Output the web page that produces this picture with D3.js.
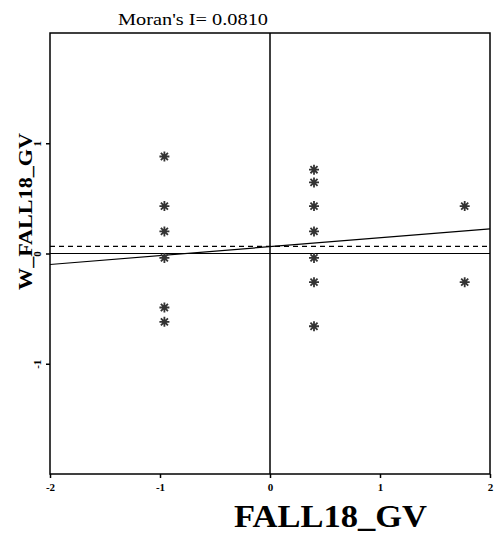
<!DOCTYPE html>
<html>
<head>
<meta charset="utf-8">
<script src="https://d3js.org/d3.v7.min.js"></script>
<style>
  html, body { margin: 0; background: #fff; }
</style>
</head>
<body>
<svg id="chart" width="494" height="536"></svg>
<script>
// data
var xVals = [-0.96, -0.96, -0.96, -0.96, -0.96, -0.96,
             0.4, 0.4, 0.4, 0.4, 0.4, 0.4, 0.4,
             1.77, 1.77];
var yVals = [0.88, 0.43, 0.2, -0.04, -0.49, -0.62,
             0.76, 0.645, 0.43, 0.2, -0.04, -0.26, -0.66,
             0.43, -0.26];
var tickVals = [-2, -1, 0, 1, 2];
var yTickVals = [-1, 0, 1];
var moranI = 0.0810;
var intercept = 0.062;
var meanW = 0.064;

var serif = "'Liberation Serif', 'DejaVu Serif', serif";
var svg = d3.select("#chart");
var pLeft = 50, pRight = 490, pTop = 33, pBottom = 474;

var x = d3.scaleLinear().domain([-2, 2]).range([pLeft, pRight]);
var y = d3.scaleLinear().domain([-2, 2]).range([pBottom, pTop]);
var fmt = function(d) { return String(d); };

// frame
svg.append("rect").attr("x", pLeft).attr("y", pTop)
  .attr("width", pRight - pLeft).attr("height", pBottom - pTop)
  .attr("fill", "none").attr("stroke", "#000").attr("stroke-width", 1.5);

// zero lines
svg.append("line").attr("x1", x(0)).attr("x2", x(0)).attr("y1", pTop).attr("y2", pBottom)
  .attr("stroke", "#000").attr("stroke-width", 1.5);
svg.append("line").attr("x1", pLeft).attr("x2", pRight).attr("y1", y(0)).attr("y2", y(0))
  .attr("stroke", "#000").attr("stroke-width", 1.2);

// mean line (dashed)
svg.append("line").attr("x1", pLeft).attr("x2", pRight).attr("y1", y(meanW)).attr("y2", y(meanW))
  .attr("stroke", "#000").attr("stroke-width", 1.2).attr("stroke-dasharray", "5,4");

// regression line
svg.append("line")
  .attr("x1", x(-2)).attr("y1", y(intercept - 2 * moranI))
  .attr("x2", x(2)).attr("y2", y(intercept + 2 * moranI))
  .attr("stroke", "#000").attr("stroke-width", 1.2);

// x axis
var xAxis = svg.append("g").attr("transform", "translate(0," + pBottom + ")")
  .call(d3.axisBottom(x).tickValues(tickVals).tickSize(4).tickFormat(fmt));
xAxis.select(".domain").remove();
xAxis.selectAll("line").attr("stroke-width", 1.5);
xAxis.selectAll("text").attr("font-size", 11).attr("font-weight", "bold")
  .attr("font-family", serif).attr("dy", "0.9em");

// y axis
var yAxis = svg.append("g").attr("transform", "translate(" + pLeft + ",0)")
  .call(d3.axisLeft(y).tickValues(yTickVals).tickSize(4).tickFormat(fmt));
yAxis.select(".domain").remove();
yAxis.selectAll("line").attr("stroke-width", 1.5);
yAxis.selectAll("text")
  .attr("font-size", 11).attr("font-weight", "bold").attr("font-family", serif)
  .attr("x", null).attr("dy", null)
  .attr("text-anchor", "middle")
  .attr("transform", "translate(-9,0) rotate(-90)");

// points as 8-spoke asterisks
var star8 = {
  draw: function(ctx, size) {
    var r = Math.sqrt(size) / 2;
    for (var k = 0; k < 4; k++) {
      var a = k * Math.PI / 4;
      ctx.moveTo(-r * Math.cos(a), -r * Math.sin(a));
      ctx.lineTo(r * Math.cos(a), r * Math.sin(a));
    }
  }
};
svg.append("g").selectAll("path")
  .data(xVals.map(function(d, i) { return [d, yVals[i]]; }))
  .enter().append("path")
  .attr("d", d3.symbol().type(star8).size(100))
  .attr("transform", function(d) { return "translate(" + x(d[0]) + "," + y(d[1]) + ")"; })
  .attr("fill", "none").attr("stroke", "#333").attr("stroke-width", 1.8);

// title
svg.append("text").attr("x", 118).attr("y", 25)
  .attr("textLength", 150).attr("lengthAdjust", "spacingAndGlyphs")
  .attr("font-family", serif).attr("font-size", 17).text("Moran's I= " + moranI.toFixed(4));

// axis titles
svg.append("text").attr("x", 234).attr("y", 527)
  .attr("textLength", 193).attr("lengthAdjust", "spacingAndGlyphs")
  .attr("font-family", serif)
  .attr("font-size", 31).attr("font-weight", "bold").text("FALL18_GV");

svg.append("text").attr("transform", "translate(32,290) rotate(-90)")
  .attr("textLength", 157).attr("lengthAdjust", "spacingAndGlyphs")
  .attr("font-family", serif).attr("font-size", 19).attr("font-weight", "bold")
  .text("W_FALL18_GV");
</script>
</body>
</html>
